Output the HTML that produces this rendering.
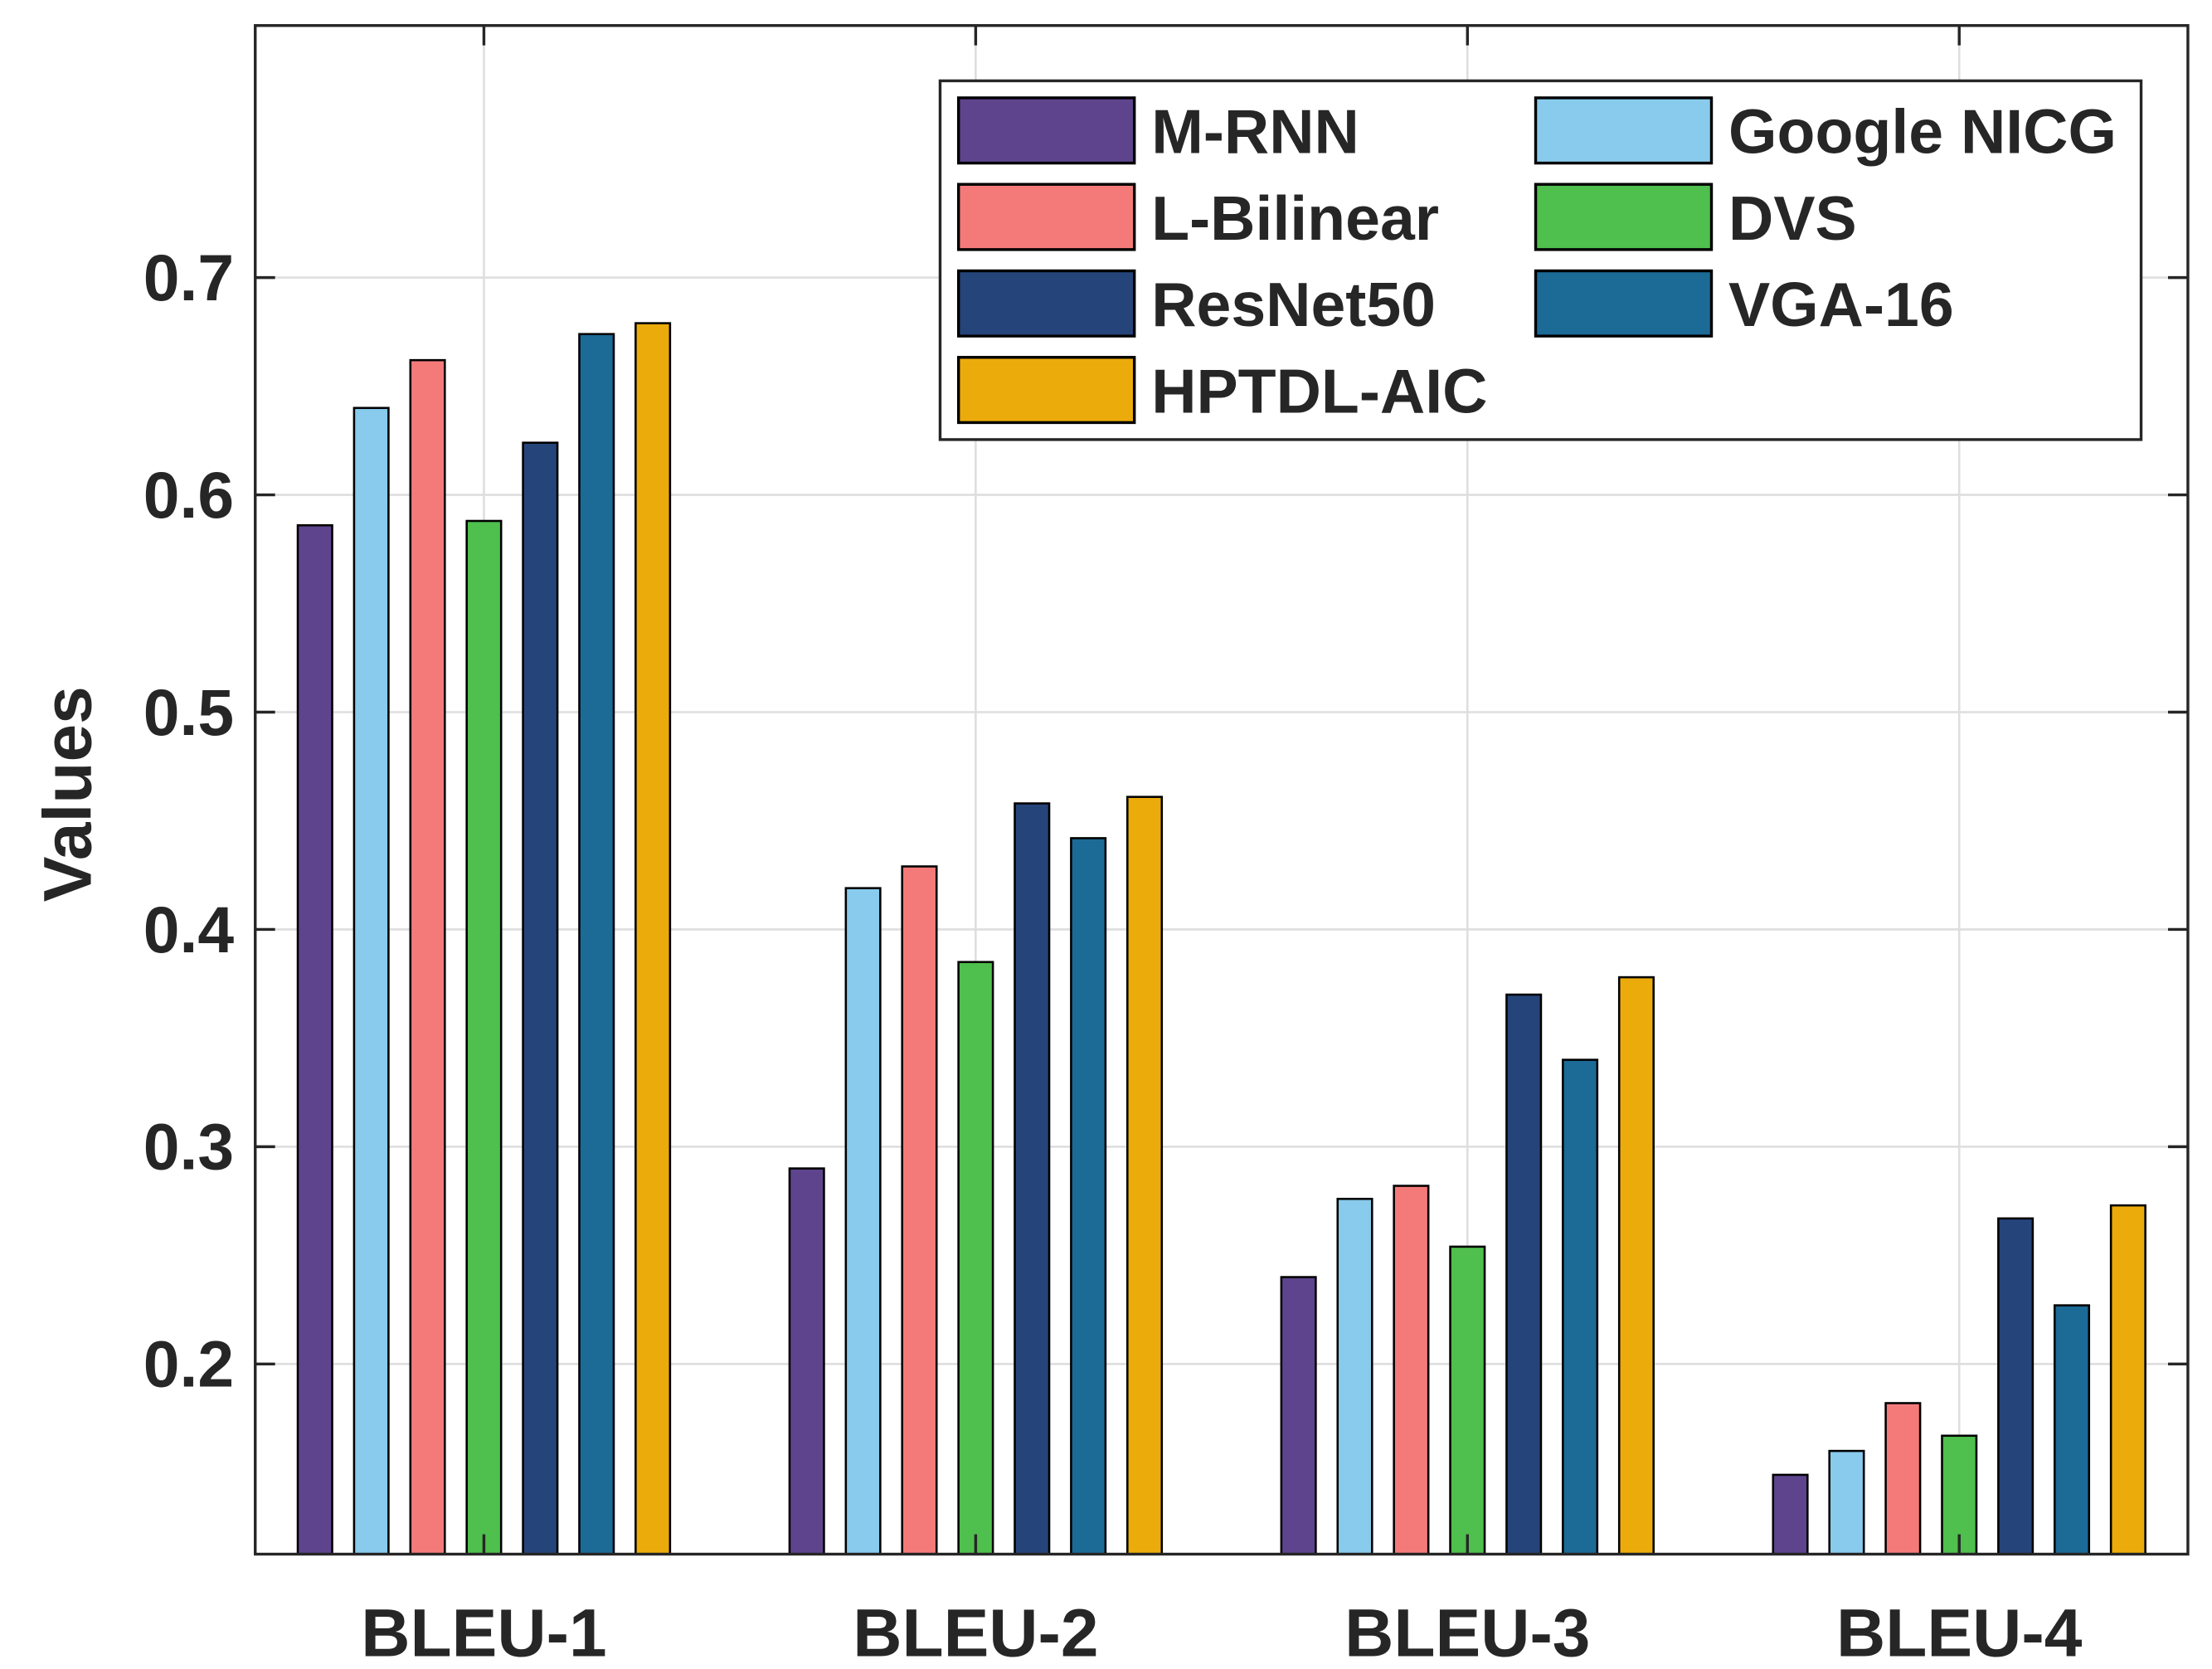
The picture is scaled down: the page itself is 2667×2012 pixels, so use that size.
<!DOCTYPE html>
<html><head><meta charset="utf-8"><style>
html,body{margin:0;padding:0;background:#fff;}
svg{display:block;}
text{font-family:"Liberation Sans",Arial,sans-serif;font-weight:bold;fill:#262626;}
</style></head><body>
<svg id="chart" width="2667" height="2012" viewBox="0 0 1560 1177" preserveAspectRatio="none" xmlns="http://www.w3.org/2000/svg">
<g id="grid"></g>
<g id="bars"></g>
<g id="axes"></g>
<g id="legend"></g>
<text x="0" y="0" transform="translate(64,560) rotate(-90)" text-anchor="middle" font-size="48">Values</text>
</svg>
<script>
const categories = ["BLEU-1","BLEU-2","BLEU-3","BLEU-4"];
const seriesNames = ["M-RNN","Google NICG","L-Bilinear","DVS","ResNet50","VGA-16","HPTDL-AIC"];
const mrnn = [0.586,0.290,0.240,0.149];
const googleNicg = [0.640,0.419,0.276,0.160];
const lBilinear = [0.662,0.429,0.282,0.182];
const dvs = [0.588,0.385,0.254,0.167];
const resnet50 = [0.624,0.458,0.370,0.267];
const vga16 = [0.674,0.442,0.340,0.227];
const hptdl = [0.679,0.461,0.378,0.273];
const yTicks = [0.2,0.3,0.4,0.5,0.6,0.7];
const yTickLabels = ["0.2","0.3","0.4","0.5","0.6","0.7"];

const series = [mrnn,googleNicg,lBilinear,dvs,resnet50,vga16,hptdl];
const colors = ["#5e448d","#88cbec","#f47a7a","#4fbf4d","#25457a","#1c6a96","#ebab0a"];
const L=180,R=1543,T=18,B=1096;
const yMin=0.1125,yMax=0.816,xMin=0.535,xMax=4.465;
const ns="http://www.w3.org/2000/svg";
function y(v){return B-(v-yMin)/(yMax-yMin)*(B-T);}
function x(v){return L+(v-xMin)/(xMax-xMin)*(R-L);}
function mk(tag,attrs,parent){const e=document.createElementNS(ns,tag);for(const k in attrs)e.setAttribute(k,attrs[k]);parent.appendChild(e);return e;}
const grid=document.getElementById('grid'),bars=document.getElementById('bars'),axes=document.getElementById('axes'),legend=document.getElementById('legend');
yTicks.forEach((t,i)=>{
  const g=mk('line',{x1:L,x2:R,y1:y(t),y2:y(t),stroke:'#dedede','stroke-width':1.5},grid);
  
  
  mk('line',{x1:L,x2:L+14,y1:y(t),y2:y(t),stroke:'#262626','stroke-width':2},axes);
  mk('line',{x1:R-14,x2:R,y1:y(t),y2:y(t),stroke:'#262626','stroke-width':2},axes);
  const lb=mk('text',{x:165,y:y(t)+16,'text-anchor':'end','font-size':46},axes);
  lb.textContent=yTickLabels[i];
  
  
});
categories.forEach((c,i)=>{
  const cx=x(i+1);
  const g=mk('line',{x1:cx,x2:cx,y1:T,y2:B,stroke:'#dedede','stroke-width':1.5},grid);
  
  
  const bw=x(1.07)-x(1), step=x(1.1145)-x(1);
  series.forEach((s,j)=>{
    const bx=cx+(j-3)*step-bw/2;
    const r=mk('rect',{x:bx,y:y(s[i]),width:bw,height:B-y(s[i]),fill:colors[j],stroke:'#000','stroke-width':1.5},bars);
    
    
  });
  mk('line',{x1:cx,x2:cx,y1:B-14,y2:B,stroke:'#262626','stroke-width':2},axes);
  mk('line',{x1:cx,x2:cx,y1:T,y2:T+14,stroke:'#262626','stroke-width':2},axes);
  const lb=mk('text',{x:cx,y:1168,'text-anchor':'middle','font-size':48},axes);
  lb.textContent=c;
  
  
});
const frame=mk('rect',{x:L,y:T,width:R-L,height:B-T,fill:'none',stroke:'#262626','stroke-width':2},axes);


const lbox=mk('rect',{x:663,y:57,width:847,height:253,fill:'#fff',stroke:'#262626','stroke-width':2},legend);


const order=[[0,0],[2,0],[4,0],[6,0],[1,1],[3,1],[5,1]];
const rowY=[92,153,214,275];
order.forEach((o,k)=>{
  const j=o[0],col=o[1],row=col===0?k:k-4;
  const sx=col===0?676:1083;
  const sw=mk('rect',{x:sx,y:rowY[row]-23,width:124,height:46,fill:colors[j],stroke:'#000','stroke-width':2},legend);
  
  
  const t=mk('text',{x:sx+136,y:rowY[row]+16,'font-size':44,fill:'#000'},legend);
  t.textContent=seriesNames[j];
  
  
});
</script>
</body></html>
